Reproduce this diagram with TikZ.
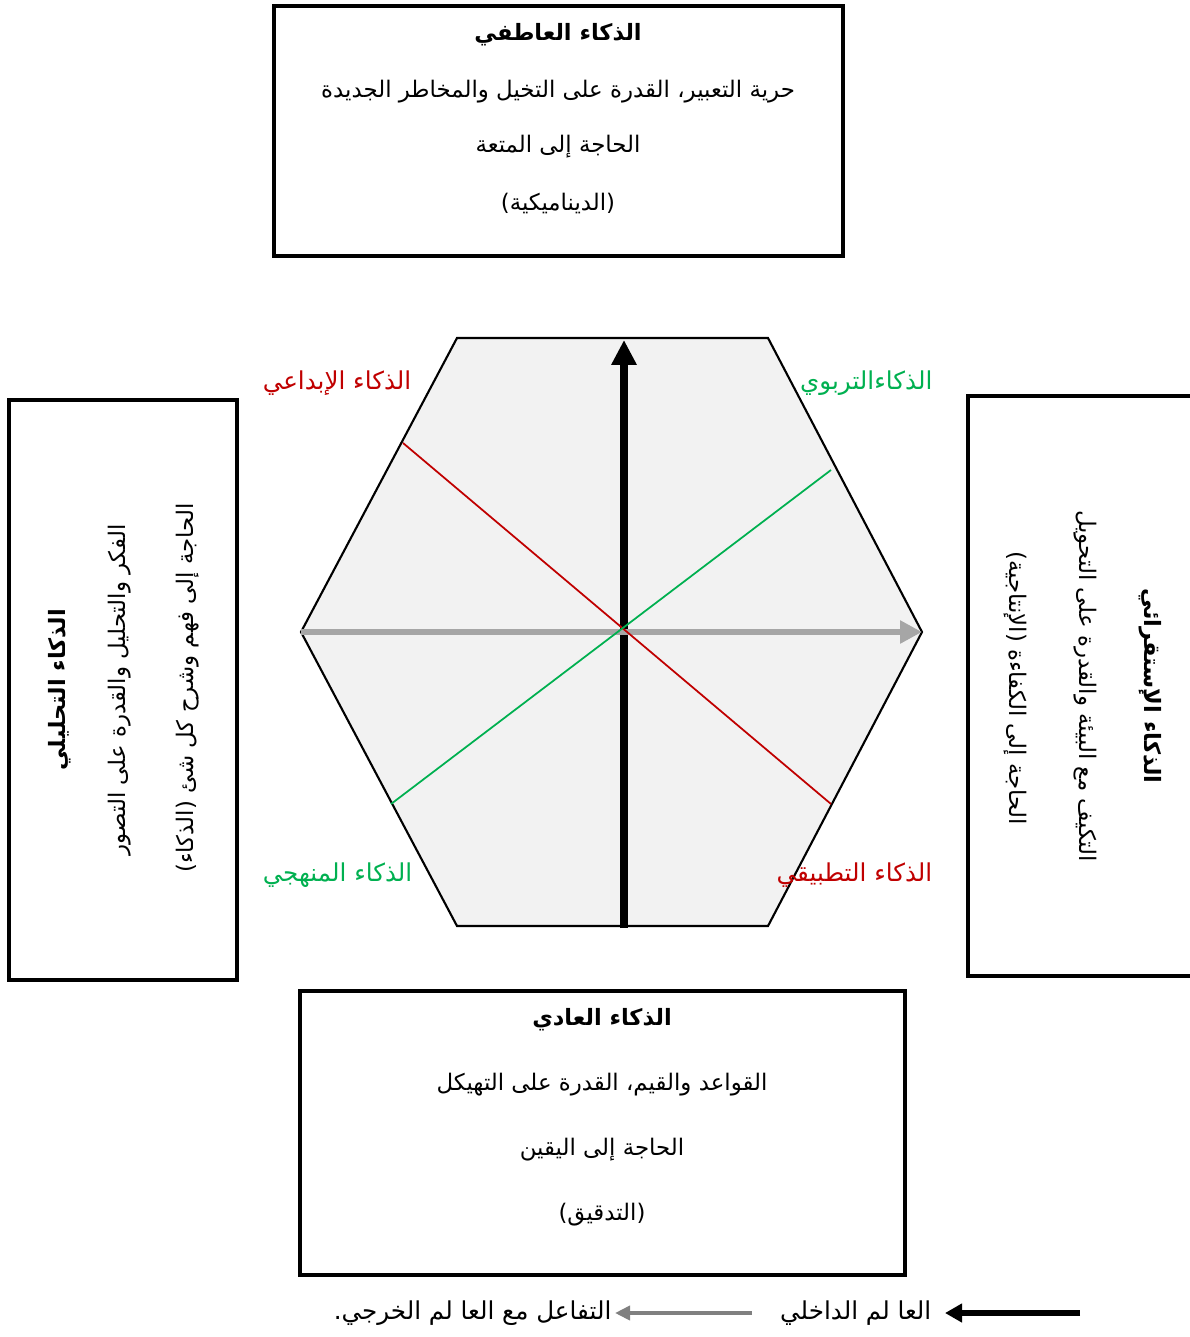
\documentclass[tikz,border=0pt]{standalone}
\usepackage{fontspec}
\newfontfamily\arabicfont[Script=Arabic]{DejaVu Sans}
\TeXXeTstate=1
\usepackage{xcolor}
\definecolor{ink}{HTML}{000000}
\definecolor{hexfill}{HTML}{F2F2F2}
\definecolor{creative}{HTML}{C00000}
\definecolor{method}{HTML}{00B050}
\definecolor{axisgray}{HTML}{A6A6A6}
\definecolor{legendgray}{HTML}{808080}
\usepackage{tikz}
\usetikzlibrary{positioning,arrows.meta,calc}
\newcommand{\artxt}[1]{{\arabicfont\beginR #1\endR}}

\begin{document}
\begin{tikzpicture}[
  box/.style={draw=ink,line width=0.9pt,inner sep=0pt},
  txt/.style={inner sep=0pt,font=\fontsize{6.5}{8}\selectfont},
  ttl/.style={inner sep=0pt,font=\fontsize{6.4}{8}\selectfont\bfseries},
  lbl/.style={inner sep=0pt,anchor=east,font=\fontsize{7}{8}\selectfont},
  lgd/.style={inner sep=0pt,anchor=east,font=\fontsize{7}{8}\selectfont}
]
\useasboundingbox (0,0) rectangle (11.89,-13.37);

% Four boxes round the hexagon
\node[box,minimum width=5.69cm,minimum height=2.50cm] (emo) at (5.585,-1.31) {};
\node[box,minimum width=2.28cm,minimum height=5.80cm] (ana) at (1.23,-6.90) {};
\node[box,minimum width=2.40cm,minimum height=5.80cm] (ind) at (10.88,-6.86) {};
\node[box,minimum width=6.05cm,minimum height=2.84cm] (ord) at (6.025,-11.33) {};

% Top box text
\node[ttl] (emoT) at (5.58,-0.35) {\artxt{الذكاء العاطفي}};
\node[txt] (emo1) at (5.58,-0.92) {\artxt{حرية التعبير، القدرة على التخيل والمخاطر الجديدة}};
\node[txt] (emo2) at (5.58,-1.47) {\artxt{الحاجة إلى المتعة}};
\node[txt] (emo3) at (5.58,-2.03) {\artxt{(الديناميكية)}};

% Left box text (rotated)
\node[ttl,rotate=90] (anaT) at (0.60,-6.90) {\artxt{الذكاء التحليلي}};
\node[txt,rotate=90] (ana1) at (1.20,-6.90) {\artxt{الفكر والتحليل والقدرة على التصور}};
\node[txt,rotate=90] (ana2) at (1.88,-6.88) {\artxt{الحاجة إلى فهم وشرح كل شئ (الذكاء)}};

% Right box text (rotated)
\node[ttl,rotate=-90] (indT) at (11.50,-6.86) {\artxt{الذكاء الإستقرائي}};
\node[txt,rotate=-90] (ind1) at (10.85,-6.86) {\artxt{التكيف مع البيئة والقدرة على التحويل}};
\node[txt,rotate=-90] (ind2) at (10.15,-6.88) {\artxt{الحاجة إلى الكفاءة (الإنتاجية)}};

% Bottom box text
\node[ttl] (ordT) at (6.02,-10.20) {\artxt{الذكاء العادي}};
\node[txt] (ord1) at (6.02,-10.85) {\artxt{القواعد والقيم، القدرة على التهيكل}};
\node[txt] (ord2) at (6.02,-11.50) {\artxt{الحاجة إلى اليقين}};
\node[txt] (ord3) at (6.02,-12.15) {\artxt{(التدقيق)}};

% Hexagon
\coordinate (hL) at (3.01,-6.32);
\coordinate (hTL) at (4.57,-3.38);
\coordinate (hTR) at (7.68,-3.38);
\coordinate (hR) at (9.22,-6.32);
\coordinate (hBR) at (7.68,-9.26);
\coordinate (hBL) at (4.57,-9.26);
\filldraw[fill=hexfill,draw=ink,line width=0.6pt] (hL) -- (hTL) -- (hTR) -- (hR) -- (hBR) -- (hBL) -- cycle;

% Axes
\coordinate (vBot) at (6.24,-9.28);
\coordinate (vTop) at (6.24,-3.40);
\draw[ink,line width=2pt,-{Triangle[length=0.25cm,width=0.24cm]}] (vBot) -- (vTop);
\draw[axisgray,line width=1.7pt,-{Triangle[length=0.22cm,width=0.22cm]}] (hL) -- (hR);

% Diagonals
\coordinate (r1) at (4.03,-4.43);
\coordinate (r2) at (8.31,-8.04);
\coordinate (g1) at (8.31,-4.70);
\coordinate (g2) at (3.91,-8.04);
\draw[creative,line width=0.5pt] (r1) -- (r2);
\draw[method,line width=0.5pt] (g1) -- (g2);

% Corner labels
\node[lbl,text=creative] (cre) at (4.12,-3.83) {\artxt{الذكاء الإبداعي}};
\node[lbl,text=method] (edu) at (9.33,-3.83) {\artxt{الذكاءالتربوي}};
\node[lbl,text=method] (met) at (4.13,-8.75) {\artxt{الذكاء المنهجي}};
\node[lbl,text=creative] (app) at (9.33,-8.75) {\artxt{الذكاء التطبيقي}};

% Legend
\node[lgd] (inner) at (9.32,-13.13) {\artxt{العا لم الداخلي}};
\node[lgd] (outer) at (6.12,-13.13) {\artxt{التفاعل مع العا لم الخرجي.}};
\coordinate (lgA) at (10.80,-13.13);
\coordinate (lgB) at (7.52,-13.13);
\draw[ink,line width=1.5pt,-{Triangle[length=0.17cm,width=0.18cm]}] (lgA) -- ([xshift=1.3mm]inner.east);
\draw[legendgray,line width=1.1pt,-{Triangle[length=0.15cm,width=0.14cm]}] (lgB) -- ([xshift=0.3mm]outer.east);

\end{tikzpicture}
\end{document}
